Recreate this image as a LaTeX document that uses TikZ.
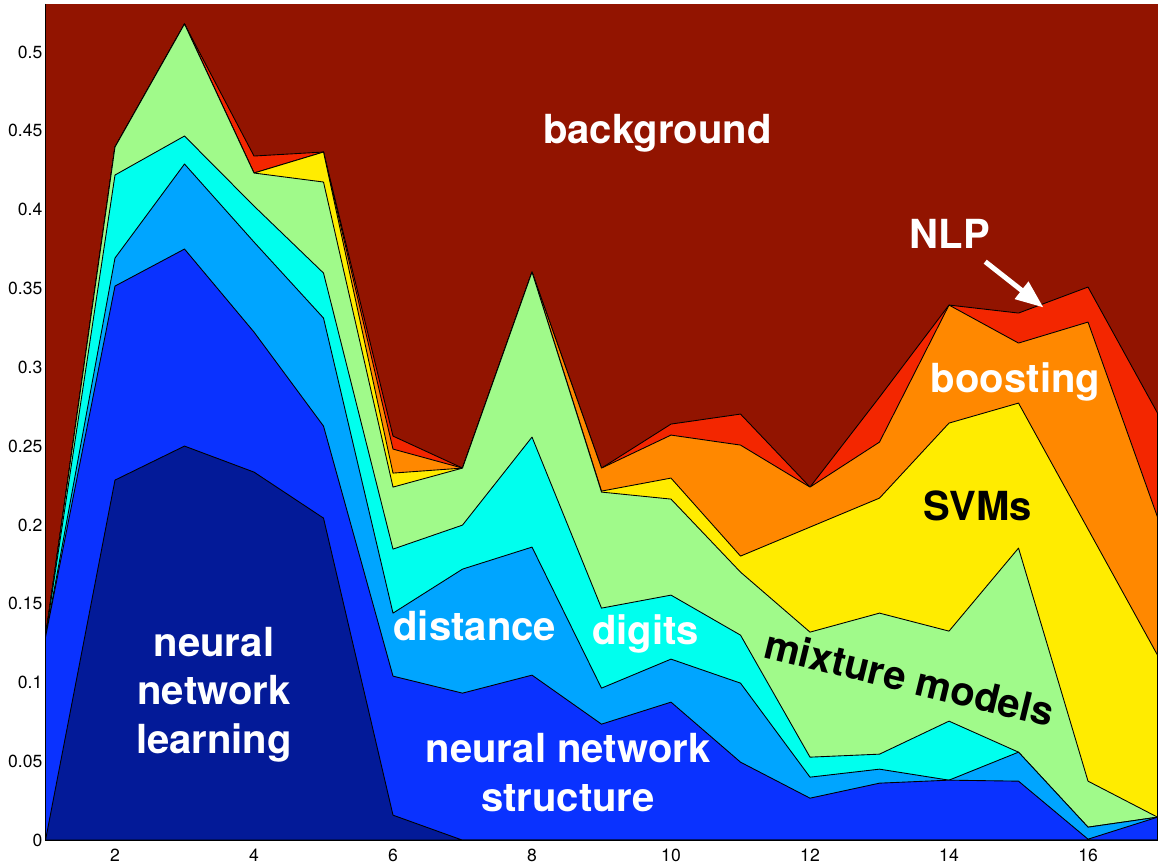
\documentclass[tikz,border=0pt]{standalone}
\usepackage{fontspec}
\setmainfont{TeX Gyre Heros}
\usetikzlibrary{arrows.meta}
\definecolor{bgRed}{RGB}{146,20,0}
\definecolor{nlpRed}{RGB}{243,38,0}
\definecolor{boostOrange}{RGB}{255,136,0}
\definecolor{svmYellow}{RGB}{255,236,0}
\definecolor{mixGreen}{RGB}{160,250,138}
\definecolor{digitCyan}{RGB}{0,255,238}
\definecolor{distBlue}{RGB}{0,165,255}
\definecolor{structBlue}{RGB}{10,50,255}
\definecolor{learnNavy}{RGB}{3,26,152}
\begin{document}
\begin{tikzpicture}
[x=1.39cm,y=0.02cm,
  areaDecorate/.style={draw=black,line width=0.5pt,line join=round},
  labelDecorate/.style={inner sep=0pt,text=white,font=\bfseries\fontsize{22.8}{27.5}\selectfont},
  tickDecorate/.style={inner sep=0pt,font=\fontsize{10}{12}\selectfont},
  nlpArrow/.style={-{Triangle[length=0.56cm,width=0.42cm]},draw=white,line width=0.1cm,shorten <=0.42cm}]
%% page and plot area
\useasboundingbox (0.3453,-26) rectangle (17.0072,840);
\fill[white] (0.3453,-26) rectangle (17.0072,840);
\fill[bgRed] (1,0) rectangle (17.0072,836);
%% stacked topic areas, top layer first
\foreach \areacolor/\heights in {
  nlpRed/{203,693,816,684,688,404,372,568,372,416,426,353,443,535,527,553,427},
  boostOrange/{203,693,816,667,688,391,372,568,372,405,395,353,398,535,497,518,323},
  svmYellow/{203,693,816,667,688,367,372,568,349,362,284,313,342,417,437,311,185},
  mixGreen/{203,693,816,667,658,353,372,568,348,341,268,208,227,209,292,59,23},
  digitCyan/{203,665,704,634,567,291,315,403,232,245,205,83,86,119,88,13,23},
  distBlue/{203,582,676,598,522,227,271,293,152,181,157,63,71,60,88,13,23},
  structBlue/{203,554,591,508,414,164,147,165,116,138,78,42,57,60,59,1,23},
  learnNavy/{0,360,394,368,322,25,0,0,0,0,0,0,0,0,0,0,0}}
{
  \draw[areaDecorate,fill=\areacolor] (1,0)
    \foreach \h [count=\i] in \heights {-- (\i,\h)} -- (17,0) -- cycle;
}
%% axes
\draw[line width=0.6pt] (1,836) -- (1,0) -- (17.0072,0);
\foreach \h/\val [count=\k] in {
  0/0, 78.8/0.05, 157.6/0.1, 236.4/0.15, 315.2/0.2, 394/0.25,
  472.8/0.3, 551.6/0.35, 630.4/0.4, 709.2/0.45, 788/0.5}
{
  \node[tickDecorate,anchor=east] (ytick\k) at (0.96,\h) {\val};
}
\foreach \i in {2,4,...,16}
{
  \node[tickDecorate] (xtick\i) at (\i,-15) {\i};
}
%% topic labels
\node[labelDecorate,anchor=base] (backgroundLabel) at (9.806,696.7) {background};
\node[labelDecorate,anchor=base] (nlp) at (14.01,591.7) {NLP};
\node[labelDecorate,anchor=base] (boosting) at (14.957,447.7) {boosting};
\node[labelDecorate,anchor=base,text=black] (svms) at (14.413,320) {SVMs};
\node[labelDecorate,anchor=base,text=black,rotate=-13.7] (mixture) at (13.381,148) {mixture models};
\node[labelDecorate,anchor=base] (digits) at (9.637,196) {digits};
\node[labelDecorate,anchor=base] (distance) at (7.177,199.3) {distance};
\node[labelDecorate,align=center] (structure) at (8.518,67.5) {neural network\\structure};
\node[labelDecorate,align=center] (learning) at (3.424,145.7) {neural\\network\\learning};
%% pointer to the thin NLP band
\coordinate (nlpTip) at (15.36,532.5);
\draw[nlpArrow] (nlp) -- (nlpTip);
\end{tikzpicture}
\end{document}
